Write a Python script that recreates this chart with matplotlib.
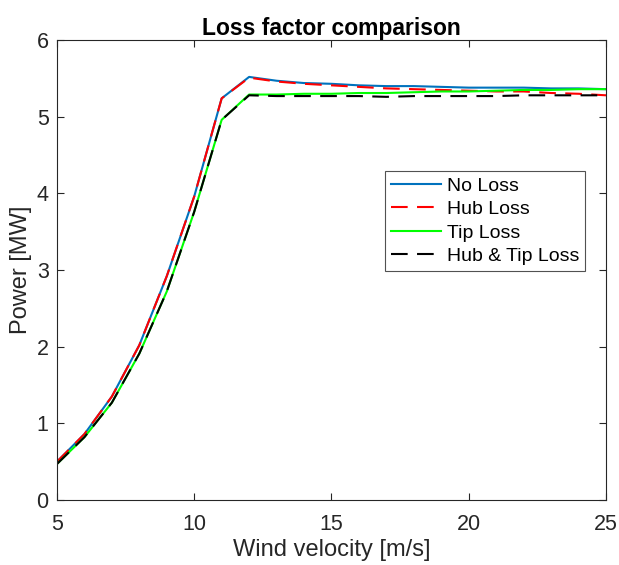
import numpy as np
import matplotlib
matplotlib.use("Agg")
import matplotlib.pyplot as plt

plt.rcParams['font.family'] = ['Liberation Sans', 'DejaVu Sans']

# Data
wind = [5, 6, 7, 8, 9, 10, 11, 12, 13, 14, 15, 16, 17, 18, 19, 20, 21, 22, 23, 24, 25]
no_loss = [0.50, 0.86, 1.35, 2.02, 2.92, 3.96, 5.24, 5.52, 5.47, 5.44, 5.43, 5.41, 5.40,
           5.40, 5.39, 5.38, 5.38, 5.38, 5.37, 5.37, 5.36]
hub_loss = [0.50, 0.86, 1.35, 2.02, 2.92, 3.96, 5.24, 5.51, 5.46, 5.43, 5.41, 5.39, 5.37,
            5.36, 5.35, 5.34, 5.33, 5.33, 5.31, 5.30, 5.28]
tip_loss = [0.47, 0.82, 1.27, 1.91, 2.72, 3.76, 4.96, 5.29, 5.29, 5.30, 5.30, 5.31, 5.31,
            5.32, 5.33, 5.33, 5.34, 5.35, 5.35, 5.36, 5.36]
hubtip_loss = [0.47, 0.82, 1.27, 1.91, 2.72, 3.76, 4.96, 5.28, 5.27, 5.27, 5.27, 5.27, 5.26,
               5.27, 5.27, 5.27, 5.27, 5.28, 5.28, 5.28, 5.28]

fig = plt.figure(figsize=(6.19, 5.65), dpi=100)
ax = fig.add_axes([0.092, 0.115, 0.887, 0.814])

dash = (0, (8, 4.5))
ax.plot(wind, no_loss, color=(0, 0.447, 0.741), lw=1.5, label="No Loss")
ax.plot(wind, hub_loss, color="red", lw=1.5, ls=dash, label="Hub Loss")
ax.plot(wind, tip_loss, color=(0, 1, 0), lw=1.5, label="Tip Loss")
ax.plot(wind, hubtip_loss, color="black", lw=1.5, ls=dash, label="Hub & Tip Loss")

ax.set_xlim(5, 25)
ax.set_ylim(0, 6)
ax.set_xticks([5, 10, 15, 20, 25])
ax.set_yticks([0, 1, 2, 3, 4, 5, 6])

ax.set_title("Loss factor comparison", fontsize=16.5, fontweight="bold", pad=3.5)
ax.set_xlabel("Wind velocity [m/s]", fontsize=17, color=(0.15, 0.15, 0.15), labelpad=3)
ax.set_ylabel("Power [MW]", fontsize=17, color=(0.15, 0.15, 0.15), labelpad=3.5)

for s in ax.spines.values():
    s.set_color((0.15, 0.15, 0.15))
    s.set_linewidth(0.8)
ax.tick_params(direction="in", top=True, right=True, labelsize=15.5,
               colors=(0.15, 0.15, 0.15), length=5, width=0.8)
ax.tick_params(axis="x", pad=10)
ax.tick_params(axis="y", pad=6)

leg = ax.legend(loc="upper left", bbox_to_anchor=(0.597, 0.715), fontsize=14,
                frameon=True, fancybox=False, edgecolor=(0.15, 0.15, 0.15),
                borderpad=0.3, labelspacing=0.3, handlelength=2.6, handletextpad=0.3,
                borderaxespad=0)
leg.get_frame().set_linewidth(0.8)

plt.savefig("out.png", dpi=100)
